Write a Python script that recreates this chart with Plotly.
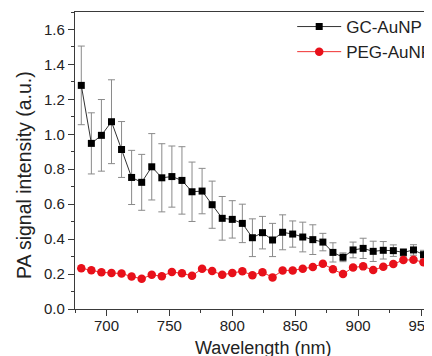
import plotly.graph_objects as go

wavelength = [680, 688, 696, 704, 712, 720, 728, 736, 744, 752, 760, 768,
              776, 784, 792, 800, 808, 816, 824, 832, 840, 848, 856, 864,
              872, 880, 888, 896, 904, 912, 920, 928, 936, 944, 952, 960]

gc_auNP = [1.280, 0.948, 0.994, 1.072, 0.913, 0.753, 0.725, 0.814, 0.751, 0.758,
           0.736, 0.671, 0.675, 0.597, 0.519, 0.513, 0.490, 0.408, 0.437, 0.395,
           0.439, 0.429, 0.412, 0.397, 0.383, 0.324, 0.296, 0.338, 0.347, 0.330,
           0.336, 0.334, 0.324, 0.338, 0.311, 0.319]
gc_err = [0.225, 0.175, 0.205, 0.240, 0.160, 0.155, 0.160, 0.190, 0.195, 0.175,
          0.193, 0.170, 0.130, 0.135, 0.125, 0.107, 0.110, 0.108, 0.093, 0.095,
          0.100, 0.075, 0.085, 0.085, 0.050, 0.055, 0.025, 0.045, 0.058, 0.058,
          0.050, 0.033, 0.022, 0.030, 0.025, 0.025]

peg_auNP = [0.233, 0.222, 0.210, 0.206, 0.203, 0.186, 0.173, 0.196, 0.188, 0.212,
            0.204, 0.190, 0.231, 0.217, 0.196, 0.206, 0.216, 0.193, 0.211, 0.181,
            0.221, 0.221, 0.231, 0.240, 0.259, 0.227, 0.200, 0.238, 0.244, 0.223,
            0.242, 0.257, 0.280, 0.282, 0.267, 0.270]
peg_err = [0.012] * len(peg_auNP)

x_ticks = [700, 750, 800, 850, 900, 950]
y_ticks = [0.0, 0.2, 0.4, 0.6, 0.8, 1.0, 1.2, 1.4, 1.6]

FONT = "Liberation Sans, Arial, sans-serif"
AX = "#3a3a3a"

# the page body has an 8px margin, so the figure is laid out 8px smaller
W, H = 424, 348
ML, MT, MB = 66.5, 4, 47
PW = W - ML
PH = H - MT - MB

fig = go.Figure()
fig.add_trace(go.Scatter(
    x=wavelength, y=gc_auNP, name="GC-AuNP", mode="lines+markers",
    line=dict(color="#333333", width=1),
    marker=dict(symbol="square", size=7, color="black"),
    error_y=dict(type="data", array=gc_err, visible=True, color="#8a8a8a",
                 thickness=1, width=3.5),
))
fig.add_trace(go.Scatter(
    x=wavelength, y=peg_auNP, name="PEG-AuNP", mode="lines+markers",
    line=dict(color="#f03030", width=1),
    marker=dict(symbol="circle", size=8.5, color="#e8101a"),
    error_y=dict(type="data", array=peg_err, visible=True, color="#f06060",
                 thickness=1, width=3),
))

fig.update_layout(
    width=W, height=H,
    margin=dict(l=ML, r=0, t=MT, b=MB, autoexpand=False),
    paper_bgcolor="white", plot_bgcolor="white",
    font=dict(family=FONT, color="#222222"),
    showlegend=True,
    legend=dict(x=(284 - ML) / PW, y=1 + 3 / PH, xanchor="left", yanchor="top",
                font=dict(family=FONT, size=17, color="#222222"),
                bgcolor="rgba(0,0,0,0)", itemwidth=44, tracegroupgap=0),
    xaxis=dict(range=[675, 675 + PW / 1.26], tickmode="array", tickvals=x_ticks,
               showgrid=False, zeroline=False, showline=True, linecolor=AX,
               linewidth=1.3, mirror=True, ticks="outside", ticklen=6,
               tickwidth=1, tickcolor=AX, ticklabelstandoff=-3,
               ticklabeloverflow="allow",
               minor=dict(dtick=25, tick0=675, ticks="outside", ticklen=3,
                          tickcolor=AX, tickwidth=1),
               tickfont=dict(family=FONT, size=15, color="#222222")),
    yaxis=dict(range=[0, 1.7], tickmode="array", tickvals=y_ticks,
               tickformat=".1f",
               showgrid=False, zeroline=False, showline=True, linecolor=AX,
               linewidth=1.3, mirror=False, ticks="outside", ticklen=6,
               tickwidth=1, tickcolor=AX,
               minor=dict(dtick=0.1, ticks="outside", ticklen=3,
                          tickcolor=AX, tickwidth=1),
               tickfont=dict(family=FONT, size=15, color="#222222")),
    annotations=[
        dict(text="Wavelength (nm)", xref="paper", yref="paper",
             x=(255 - ML) / PW, y=0, yshift=-39, xanchor="center",
             yanchor="middle", showarrow=False,
             font=dict(family=FONT, size=18, color="#222222")),
        dict(text="PA signal intensity (a.u.)", xref="paper", yref="paper",
             x=0, xshift=-51, y=(301 - 167) / PH, xanchor="center",
             yanchor="middle", textangle=-90, showarrow=False,
             font=dict(family=FONT, size=19.5, color="#222222")),
    ],
)

fig.write_html("out.html")
